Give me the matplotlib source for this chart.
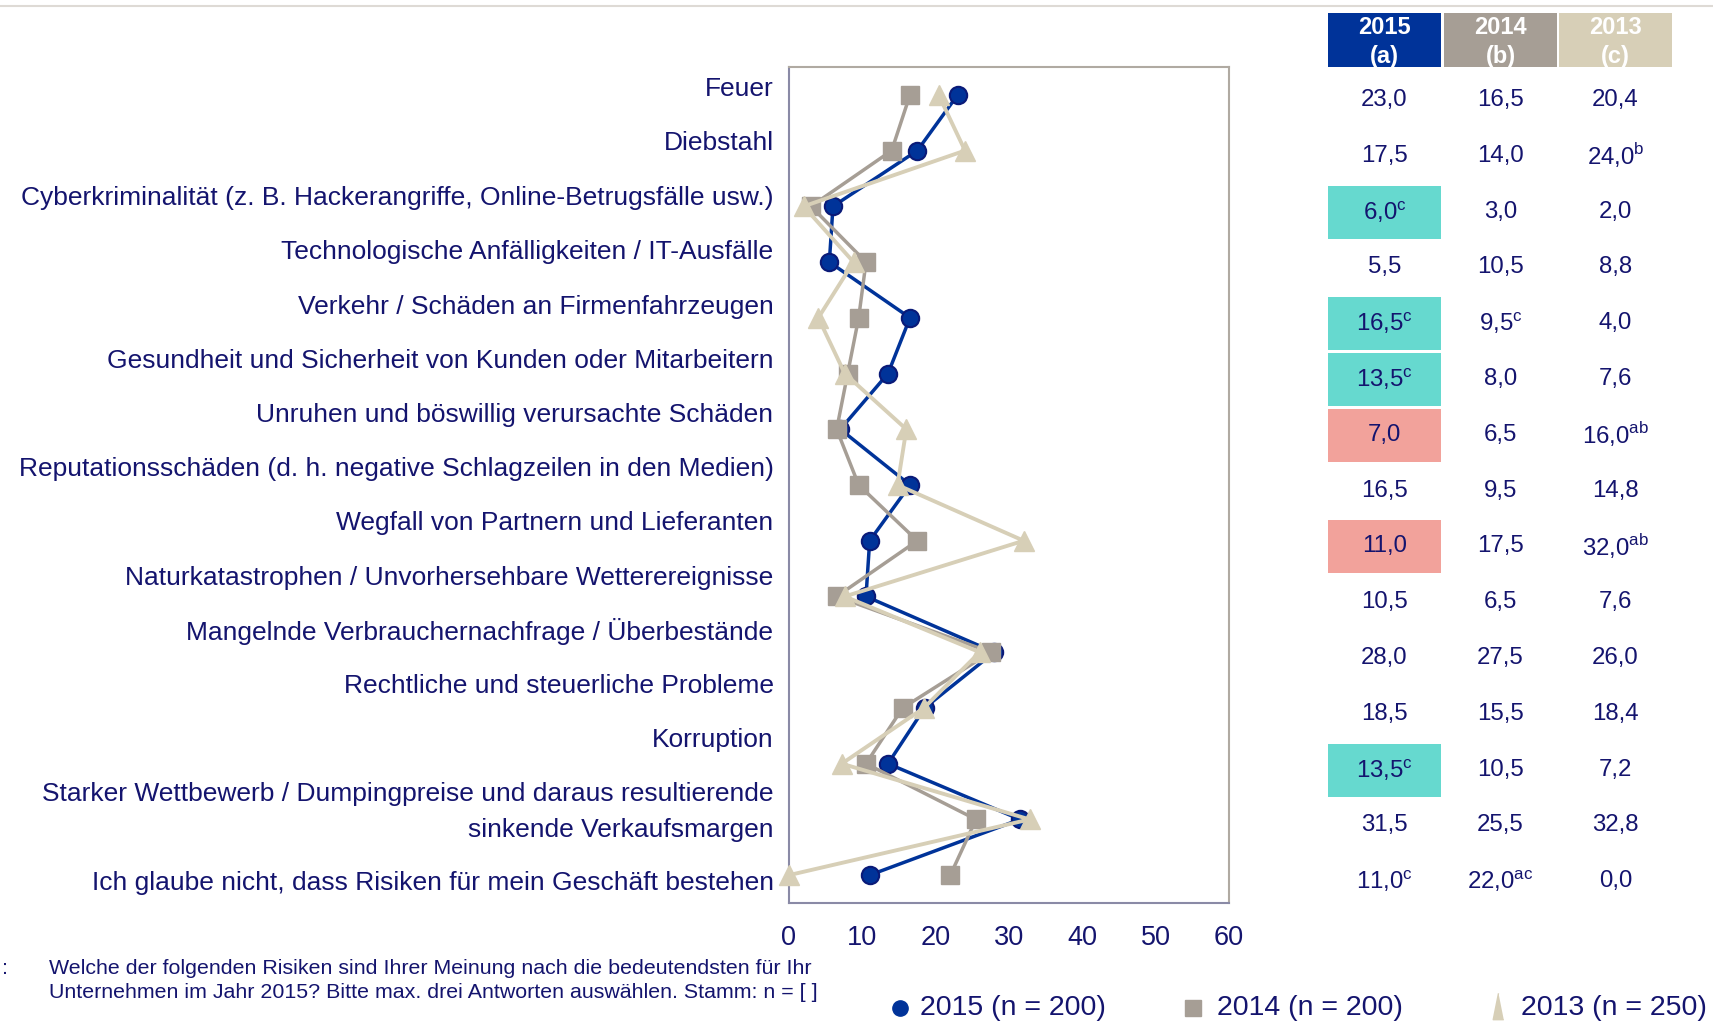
import matplotlib
matplotlib.use("Agg")
import matplotlib.pyplot as plt
from matplotlib.lines import Line2D
from matplotlib.patches import Rectangle

plt.rcParams['font.family'] = ['Liberation Sans', 'DejaVu Sans']

W, H = 1713, 1023

categories = [
    "Feuer",
    "Diebstahl",
    "Cyberkriminalität (z. B. Hackerangriffe, Online-Betrugsfälle usw.)",
    "Technologische Anfälligkeiten / IT-Ausfälle",
    "Verkehr / Schäden an Firmenfahrzeugen",
    "Gesundheit und Sicherheit von Kunden oder Mitarbeitern",
    "Unruhen und böswillig verursachte Schäden",
    "Reputationsschäden (d. h. negative Schlagzeilen in den Medien)",
    "Wegfall von Partnern und Lieferanten",
    "Naturkatastrophen / Unvorhersehbare Wetterereignisse",
    "Mangelnde Verbrauchernachfrage / Überbestände",
    "Rechtliche und steuerliche Probleme",
    "Korruption",
    "Starker Wettbewerb / Dumpingpreise und daraus resultierende\nsinkende Verkaufsmargen",
    "Ich glaube nicht, dass Risiken für mein Geschäft bestehen",
]
v2015 = [23.0, 17.5, 6.0, 5.5, 16.5, 13.5, 7.0, 16.5, 11.0, 10.5, 28.0, 18.5, 13.5, 31.5, 11.0]
v2014 = [16.5, 14.0, 3.0, 10.5, 9.5, 8.0, 6.5, 9.5, 17.5, 6.5, 27.5, 15.5, 10.5, 25.5, 22.0]
v2013 = [20.4, 24.0, 2.0, 8.8, 4.0, 7.6, 16.0, 14.8, 32.0, 7.6, 26.0, 18.4, 7.2, 32.8, 0.0]
sup2015 = ["", "", "c", "", "c", "c", "", "", "", "", "", "", "c", "", "c"]
sup2014 = ["", "", "", "", "c", "", "", "", "", "", "", "", "", "", "ac"]
sup2013 = ["", "b", "", "", "", "", "ab", "", "ab", "", "", "", "", "", ""]
highlight2015 = ["", "", "up", "", "up", "up", "down", "", "down", "", "", "", "up", "", ""]
series_labels = ["2015 (n = 200)", "2014 (n = 200)", "2013 (n = 250)"]
header_labels = ["2015\n(a)", "2014\n(b)", "2013\n(c)"]
xticks = [0, 10, 20, 30, 40, 50, 60]

C2015 = "#003399"
C2015_EDGE = "#0A1A78"
C2014 = "#A69E95"
C2013 = "#D7CFB7"
NAVY = "#14146E"
CYAN = "#66D9CF"
SALMON = "#F2A29B"


def fx(x):
    return x / W


def fy(y):
    return 1 - y / H


fig = plt.figure(figsize=(W / 100, H / 100), dpi=100)
ax = fig.add_axes([fx(789), fy(903), (1229 - 789) / W, (903 - 67) / H])

ypos = list(range(len(categories)))
ax.plot(v2015, ypos, color=C2015, lw=2.5, marker='o', ms=12.5, mfc=C2015,
        mec=C2015_EDGE, mew=1.5, zorder=3, clip_on=False)
ax.plot(v2014, ypos, color=C2014, lw=2.5, marker='s', ms=13, mfc=C2014,
        mec=C2014, zorder=4, clip_on=False)
ax.plot(v2013, ypos, color=C2013, lw=2.8, marker='^', ms=15, mfc=C2013,
        mec=C2013, zorder=5, clip_on=False)

ax.set_xlim(0, 60)
ax.set_ylim(len(categories) - 0.5, -0.5)
ax.set_xticks(xticks)
ax.set_xticklabels([str(t) for t in xticks])
ax.tick_params(axis='x', length=0, pad=16, labelsize=19.5, labelcolor=NAVY)
ax.set_yticks([])
for s in ['left', 'bottom']:
    ax.spines[s].set_color('#8A8AA6')
    ax.spines[s].set_linewidth(1.5)
for s in ['top', 'right']:
    ax.spines[s].set_color('#B0AAA2')
    ax.spines[s].set_linewidth(1.5)

# category labels
LFS = 19.0
label_y = [88.5, 143, 198, 252, 307, 360.5, 415, 469, 523, 578, 631.5, 686, 740, None, 883]
for i, lab in enumerate(categories):
    if "\n" in lab:
        l1, l2 = lab.split("\n")
        fig.text(fx(773.5), fy(794), l1, ha='right', va='center', fontsize=LFS, color=NAVY)
        fig.text(fx(773.5), fy(830), l2, ha='right', va='center', fontsize=LFS, color=NAVY)
    else:
        fig.text(fx(773.5), fy(label_y[i]), lab, ha='right', va='center', fontsize=LFS, color=NAVY)

# top rule
fig.add_artist(Line2D([0, 1], [fy(6), fy(6)], color='#DEDAD5', lw=1.5))

# table
col_x = [1384.5, 1500.5, 1615.5]
box_l = [1328, 1444, 1559]
box_w = 113
head_colors = [C2015, C2014, C2013]
for j in range(3):
    fig.add_artist(Rectangle((fx(box_l[j]), fy(67)), box_w / W, 54 / H,
                             transform=fig.transFigure, color=head_colors[j], lw=0))
    fig.text(fx(col_x[j]), fy(42), header_labels[j], ha='center', va='center',
             fontsize=17, fontweight='bold', color='white', linespacing=1.3)

row_y = [100 + i * 55.8 for i in range(len(categories))]
cols = [(v2015, sup2015), (v2014, sup2014), (v2013, sup2013)]
for i in range(len(categories)):
    hl = highlight2015[i]
    if hl:
        fig.add_artist(Rectangle((fx(1328), fy(row_y[i] + 27)), box_w / W, 53 / H,
                                 transform=fig.transFigure,
                                 color=CYAN if hl == "up" else SALMON, lw=0))
    for j, (vals, sups) in enumerate(cols):
        s = f"{vals[i]:.1f}".replace(".", ",")
        if sups[i]:
            s = s + r"$^{\mathregular{" + sups[i] + "}}$"
        fig.text(fx(col_x[j]), fy(row_y[i]), s, ha='center', va='center',
                 fontsize=17.3, color=NAVY)

# footnote
FFS = 15.4
fig.text(fx(2), fy(968), ":", ha='left', va='center', fontsize=FFS, color=NAVY)
fig.text(fx(49), fy(968), "Welche der folgenden Risiken sind Ihrer Meinung nach die bedeutendsten für Ihr",
         ha='left', va='center', fontsize=FFS, color=NAVY)
fig.text(fx(49), fy(993), "Unternehmen im Jahr 2015? Bitte max. drei Antworten auswählen. Stamm: n = [ ]",
         ha='left', va='center', fontsize=FFS, color=NAVY)

# legend (manual)
leg_y = 1008
tri = [(0, 1), (-0.4, -1), (0.4, -1)]
leg_items = [
    (900, 920, dict(marker='o', ms=11, mfc=C2015, mec=C2015)),
    (1193, 1217, dict(marker='s', ms=11, mfc=C2014, mec=C2014)),
    (1498, 1521, dict(marker=tri, ms=19, mfc=C2013, mec=C2013)),
]
for (mx, tx, kw), lab in zip(leg_items, series_labels):
    my = leg_y - 2 if kw['marker'] is tri else leg_y
    fig.add_artist(Line2D([fx(mx)], [fy(my)], linestyle='none', transform=fig.transFigure, **kw))
    fig.text(fx(tx), fy(leg_y), lab, ha='left', va='center', fontsize=20.5, color=NAVY)

fig.savefig("out.png", dpi=100)
